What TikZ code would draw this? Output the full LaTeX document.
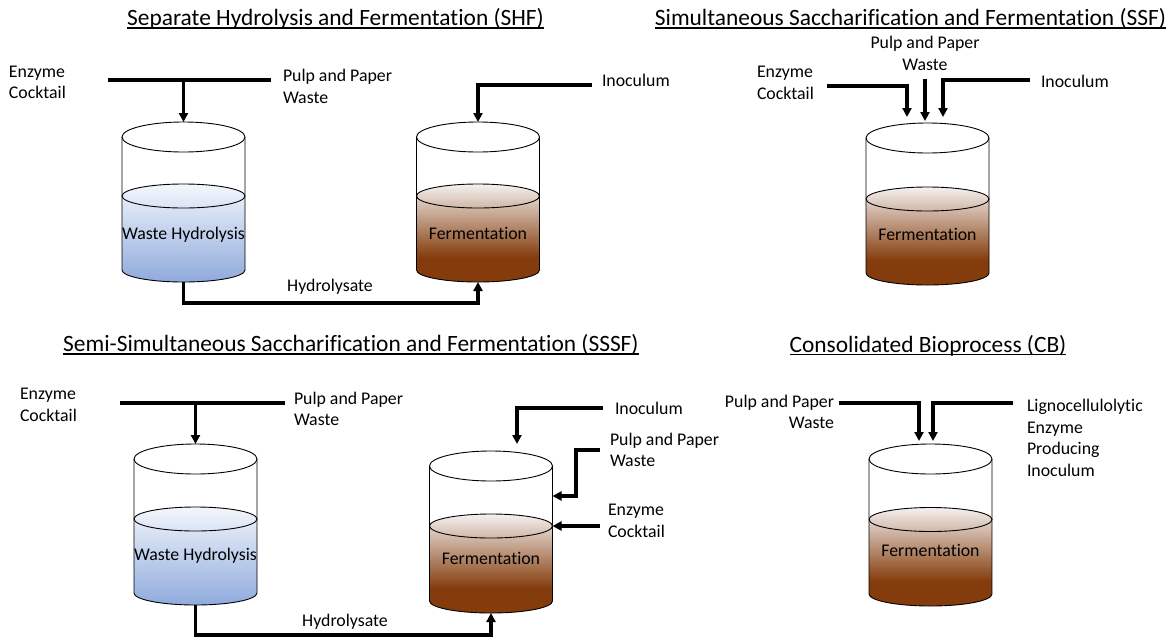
\documentclass[tikz,border=0pt]{standalone}
\usepackage{fontspec}
\setmainfont{Carlito}[Ligatures={NoCommon}]
\usetikzlibrary{arrows.meta}

\definecolor{brownD}{HTML}{843C0C}
\definecolor{brownL}{HTML}{F5F1F0}
\definecolor{blueD}{HTML}{8FAADC}
\definecolor{blueL}{HTML}{F3F6FC}

% liquid gradients: light at the surface, dark towards the bottom
\pgfdeclareverticalshading{brownliquid}{100bp}{color(0bp)=(brownD); color(37.5bp)=(brownD); color(75bp)=(brownL); color(100bp)=(brownL)}
\pgfdeclareverticalshading{blueliquid}{100bp}{color(0bp)=(blueD); color(25bp)=(blueD); color(75bp)=(blueL); color(100bp)=(blueL)}

% #1 name, #2 centre x, #3 rim y, #4 liquid level y, #5 bottom y, #6 shading
\newcommand\drawtank[6]{%
  \shade[shading=#6] (#2-61.5,#4) -- (#2-61.5,#5)
     arc[start angle=180,end angle=360,x radius=61.5pt,y radius=12pt]
     -- (#2+61.5,#4)
     arc[start angle=0,end angle=180,x radius=61.5pt,y radius=12pt] -- cycle;
  \draw[tankline] (#2,#3) ellipse[x radius=61.5pt,y radius=15pt];
  \draw[tankline] (#2,#4) ellipse[x radius=61.5pt,y radius=12pt];
  \draw[tankline] (#2-61.5,#3) -- (#2-61.5,#5)
     arc[start angle=180,end angle=360,x radius=61.5pt,y radius=12pt]
     -- (#2+61.5,#3);
  \coordinate (#1-in) at (#2,#3-15);
  \coordinate (#1-out) at (#2,#5+12);
}

\begin{document}
\begin{tikzpicture}[x=1pt,y=-1pt,
  lbl/.style={font=\fontsize{17.8pt}{21.5pt}\selectfont, inner sep=0pt, outer sep=0pt},
  ttl/.style={font=\fontsize{23.4pt}{28pt}\selectfont, inner sep=0pt, outer sep=0pt},
  uline/.style={line width=1.3pt},
  tankline/.style={line width=0.9pt},
  pipe/.style={line width=3.2pt},
  feed/.style={pipe, -{Triangle[length=9pt,width=9pt]}},
]
\fill[white] (0,0) rectangle (1170,643);
\useasboundingbox (0,0) rectangle (1170,643);

% ---------------- SHF ----------------
\node[ttl, anchor=base] (shf) at (335.5,25.5) {Separate Hydrolysis and Fermentation (SHF)};
\draw[uline] ([yshift=-2.5pt]shf.base west) -- ([yshift=-2.5pt]shf.base east);

\drawtank{t1}{183.5}{137}{196}{270}{blueliquid}
\drawtank{t2}{478}{137}{196}{270}{brownliquid}
\node[lbl] (t1txt) at (183.5,235) {Waste Hydrolysis};
\node[lbl] (t2txt) at (478,233) {Fermentation};

\node[lbl, align=left, anchor=west] (shf-enz) at (9,82.5) {Enzyme\\Cocktail};
\node[lbl, align=left, anchor=west] (shf-pulp) at (283,86.5) {Pulp and Paper\\Waste};
\node[lbl, anchor=west] (shf-ino) at (602,80) {Inoculum};

\coordinate (shf-a) at (108,80);
\coordinate (shf-b) at (271,80);
\coordinate (shf-j) at (183.5,80);
\coordinate (shf-c) at (592,85);
\draw[pipe] (shf-a) -- (shf-b);
\draw[feed] (shf-j) -- (t1-in);
\draw[feed] (shf-c) -| (t2-in);
\draw[feed] (t1-out) -- ++(0,21) -| (t2-out);
\node[lbl] (shf-hyd) at (330,287) {Hydrolysate};

% ---------------- SSF ----------------
\node[ttl, anchor=base] (ssf) at (910.5,25.5) {Simultaneous Saccharification and Fermentation (SSF)};
\draw[uline] ([yshift=-2.5pt]ssf.base west) -- ([yshift=-2.5pt]ssf.base east);

\drawtank{t3}{927.5}{138}{199}{273}{brownliquid}
\node[lbl] (t3txt) at (927.5,234) {Fermentation};

\node[lbl, align=center] (ssf-pulp) at (925,53.5) {Pulp and Paper\\Waste};
\node[lbl, align=left, anchor=west] (ssf-enz) at (757,83) {Enzyme\\Cocktail};
\node[lbl, anchor=west] (ssf-ino) at (1041,81) {Inoculum};

\coordinate (ssf-a) at (827,86);
\coordinate (ssf-at) at (907,117);
\coordinate (ssf-m) at (925,79);
\coordinate (ssf-mt) at (925,121);
\coordinate (ssf-c) at (1030,80);
\coordinate (ssf-ct) at (943,117);
\draw[feed] (ssf-a) -| (ssf-at);
\draw[feed] (ssf-m) -- (ssf-mt);
\draw[feed] (ssf-c) -| (ssf-ct);

% ---------------- SSSF ----------------
\node[ttl, anchor=base] (sssf) at (351,351.5) {Semi-Simultaneous Saccharification and Fermentation (SSSF)};
\draw[uline] ([yshift=-2.5pt]sssf.base west) -- ([yshift=-2.5pt]sssf.base east);

\drawtank{t4}{195.5}{459}{519}{593}{blueliquid}
\drawtank{t5}{491}{466}{526}{601}{brownliquid}
\node[lbl] (t4txt) at (195.5,556) {Waste Hydrolysis};
\node[lbl] (t5txt) at (491,558) {Fermentation};

\node[lbl, align=left, anchor=west] (sssf-enz) at (20,405) {Enzyme\\Cocktail};
\node[lbl, align=left, anchor=west] (sssf-pulp) at (294,409) {Pulp and Paper\\Waste};
\node[lbl, anchor=west] (sssf-ino) at (615,408) {Inoculum};
\node[lbl, align=left, anchor=west] (sssf-pulp2) at (610,450) {Pulp and Paper\\Waste};
\node[lbl, align=left, anchor=west] (sssf-enz2) at (608,521) {Enzyme\\Cocktail};

\coordinate (sssf-a) at (120,403);
\coordinate (sssf-b) at (285,403);
\coordinate (sssf-j) at (195.5,403);
\draw[pipe] (sssf-a) -- (sssf-b);
\draw[feed] (sssf-j) -- (t4-in);
\draw[feed] (t4-out) -- ++(0,30) -| (t5-out);
\node[lbl] (sssf-hyd) at (345,622) {Hydrolysate};

\coordinate (sssf-i) at (603,408);
\coordinate (sssf-it) at (517,444);
\coordinate (sssf-p) at (600,450);
\coordinate (sssf-pb) at (576,496);
\coordinate (t5-wall1) at (552.5,496);
\coordinate (sssf-e) at (600,526);
\coordinate (t5-wall2) at (552.5,526);
\draw[feed] (sssf-i) -| (sssf-it);
\draw[feed] (sssf-p) -| (sssf-pb) -- (t5-wall1);
\draw[feed] (sssf-e) -- (t5-wall2);

% ---------------- CB ----------------
\node[ttl, anchor=base] (cb) at (928,352) {Consolidated Bioprocess (CB)};
\draw[uline] ([yshift=-2.5pt]cb.base west) -- ([yshift=-2.5pt]cb.base east);

\drawtank{t6}{930.5}{459}{519.5}{594}{brownliquid}
\node[lbl] (t6txt) at (930.5,550) {Fermentation};

\node[lbl, align=right, anchor=east] (cb-pulp) at (834,412) {Pulp and Paper\\Waste};
\node[lbl, align=left, anchor=west] (cb-ligno) at (1027,438) {Lignocellulolytic\\Enzyme\\Producing\\Inoculum};

\coordinate (cb-a) at (839,403);
\coordinate (cb-at) at (919,441);
\coordinate (cb-c) at (1013,403);
\coordinate (cb-ct) at (933,441);
\draw[feed] (cb-a) -| (cb-at);
\draw[feed] (cb-c) -| (cb-ct);
\end{tikzpicture}
\end{document}
